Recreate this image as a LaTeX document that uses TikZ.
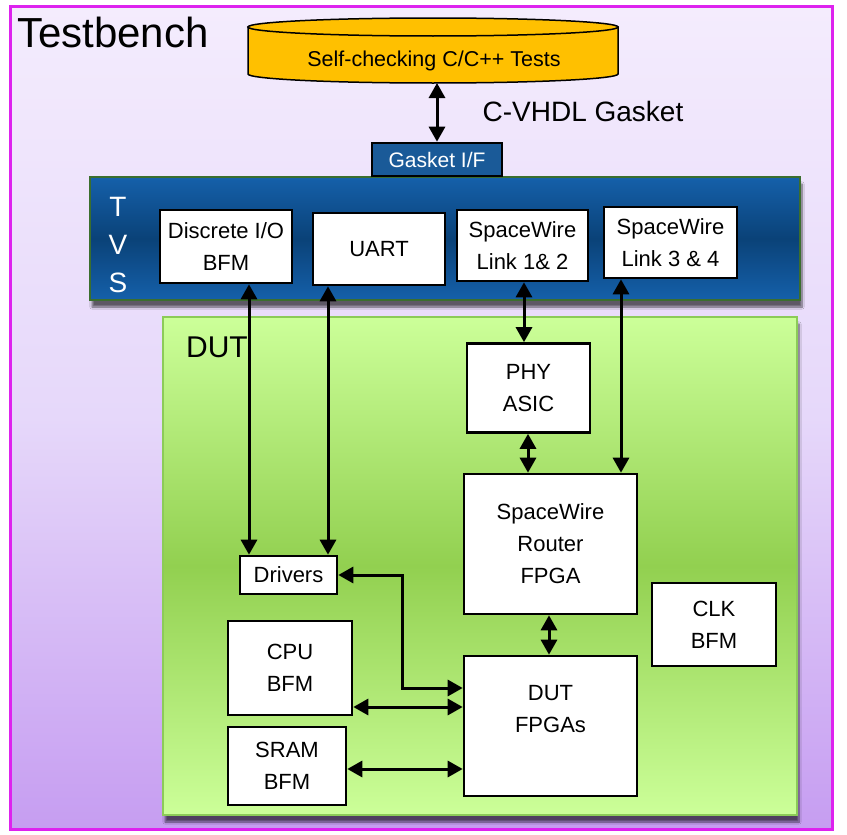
\documentclass[tikz,border=0pt]{standalone}
\usepackage{fontspec}
\setmainfont{Liberation Sans}
\usetikzlibrary{arrows.meta,shadows.blur,calc}
\definecolor{tbtop}{HTML}{F4ECFD}
\definecolor{tbmid}{HTML}{E6D8FA}
\definecolor{tbbot}{HTML}{C69DF1}
\definecolor{tbborder}{HTML}{DD22EE}
\definecolor{tvsblue}{HTML}{1560AA}
\definecolor{tvsdark}{HTML}{0A4278}
\definecolor{tvsedge}{HTML}{3B6E2E}
\definecolor{dutlight}{HTML}{CCFF99}
\definecolor{dutmid}{HTML}{92D050}
\definecolor{dutedge}{HTML}{8CCB58}
\definecolor{cylfill}{HTML}{FFC000}
\definecolor{gasketblue}{HTML}{1A5A98}
\begin{document}
\begin{tikzpicture}[x=1pt,y=-1pt,
  box/.style={draw=black, line width=2.6pt, fill=white, align=center, inner sep=0pt,
    font=\fontsize{22}{32}\selectfont},
  lbl/.style={align=center, inner sep=0pt, font=\fontsize{22}{32}\selectfont},
  >={Triangle[length=15pt,width=16pt]},
  dbl/.style={line width=3pt, draw=black, <->},
  tvsletter/.style={text=white, inner sep=0pt, font=\fontsize{28}{28}\selectfont}]
\useasboundingbox (0,0) rectangle (847,835);
\fill[white] (0,0) rectangle (847,835);
% Testbench frame
\shade[top color=tbtop, bottom color=tbbot, middle color=tbmid] (10,6) rectangle (832,829);
\draw[tbborder, line width=3pt] (10,6) rectangle (832,829);
\node[anchor=base west, inner sep=0pt, font=\fontsize{42}{42}\selectfont] (tb) at (17,47) {Testbench};
% Cylinder
\draw[line width=1.5pt, fill=cylfill] (248,27) -- (248,74) arc (180:0:185 and 9) -- (618,27) -- cycle;
\draw[line width=1.5pt, fill=cylfill] (433,27) ellipse (185 and 9);
\coordinate (cylbot) at (437,83);
\node[inner sep=0pt, font=\fontsize{21.5}{26}\selectfont] (cyl) at (434,61) {Self-checking C/C++ Tests};
\node[inner sep=0pt, font=\fontsize{28}{28}\selectfont] (cvhdl) at (583,111) {C-VHDL Gasket};
% TVS bar
\shade[top color=tvsblue, bottom color=tvsblue, middle color=tvsdark, blur shadow={shadow xshift=2pt, shadow yshift=-7pt, shadow blur steps=8, shadow opacity=60}] (90,177) rectangle (800,300);
\draw[tvsedge, line width=1.8pt] (90,177) rectangle (800,300);
\node[tvsletter] (tvsT) at (118,207) {T};
\node[tvsletter] (tvsV) at (118,245) {V};
\node[tvsletter] (tvsS) at (118,283) {S};
% Gasket I/F
\node[draw=black, line width=2.6pt, fill=gasketblue, text=white, minimum width=130pt, minimum height=33pt, inner sep=0pt, font=\fontsize{21}{21}\selectfont] (gasket) at (437,159.5) {Gasket I/F};
% TVS boxes
\node[box, minimum width=132pt, minimum height=73pt] (disc) at (226,246.5) {Discrete I/O\\BFM};
\node[box, minimum width=132pt, minimum height=72pt] (uart) at (379,249) {UART};
\node[box, minimum width=131pt, minimum height=71pt] (sw12) at (522.5,245.5) {SpaceWire\\Link 1\& 2};
\node[box, minimum width=133pt, minimum height=71pt] (sw34) at (670.5,242.5) {SpaceWire\\Link 3 \& 4};
% DUT area
\shade[top color=dutlight, bottom color=dutlight, middle color=dutmid, blur shadow={shadow xshift=2pt, shadow yshift=-7pt, shadow blur steps=8, shadow opacity=60}] (163,317) rectangle (797,815);
\draw[dutedge, line width=1.8pt] (163,317) rectangle (797,815);
\node[inner sep=0pt, font=\fontsize{30}{30}\selectfont] (dutlbl) at (217,347) {DUT};
\node[box, minimum width=123pt, minimum height=89pt] (phy) at (528.5,388) {PHY\\ASIC};
\node[box, minimum width=173pt, minimum height=140pt] (router) at (550.5,544) {SpaceWire\\Router\\FPGA};
\node[box, minimum width=97pt, minimum height=38pt] (drivers) at (288.5,575) {Drivers};
\node[box, minimum width=124pt, minimum height=83pt] (clk) at (714,624.5) {CLK\\BFM};
\node[box, minimum width=124pt, minimum height=94pt] (cpu) at (290,668) {CPU\\BFM};
\node[box, minimum width=173pt, minimum height=140pt] (dutf) at (550.5,726) {};
\node[lbl] (dutftxt) at (550.5,709) {DUT\\FPGAs};
\node[box, minimum width=118pt, minimum height=78pt] (sram) at (287,766) {SRAM\\BFM};
% connector coordinates
\coordinate (xa) at (249,0);
\coordinate (xb) at (328,0);
\coordinate (xc) at (524,0);
\coordinate (xd) at (621,0);
\coordinate (xe) at (528,0);
\coordinate (xf) at (549,0);
\coordinate (ya) at (0,688);
\coordinate (yb) at (0,707);
\coordinate (yc) at (0,769);
\coordinate (bend) at (402,0);
% connectors
\draw[dbl] (cylbot) -- (gasket.north -| cylbot);
\draw[dbl] (disc.south -| xa) -- (drivers.north -| xa);
\draw[dbl] (uart.south -| xb) -- (drivers.north -| xb);
\draw[dbl] (sw12.south -| xc) -- (phy.north -| xc);
\draw[dbl] (sw34.south -| xd) -- (router.north -| xd);
\draw[dbl] (phy.south -| xe) -- (router.north -| xe);
\draw[dbl] (router.south -| xf) -- (dutf.north -| xf);
\draw[dbl] (drivers.east) -| (bend |- ya) -- (dutf.west |- ya);
\draw[dbl] (cpu.east |- yb) -- (dutf.west |- yb);
\draw[dbl] (sram.east |- yc) -- (dutf.west |- yc);
\end{tikzpicture}
\end{document}
